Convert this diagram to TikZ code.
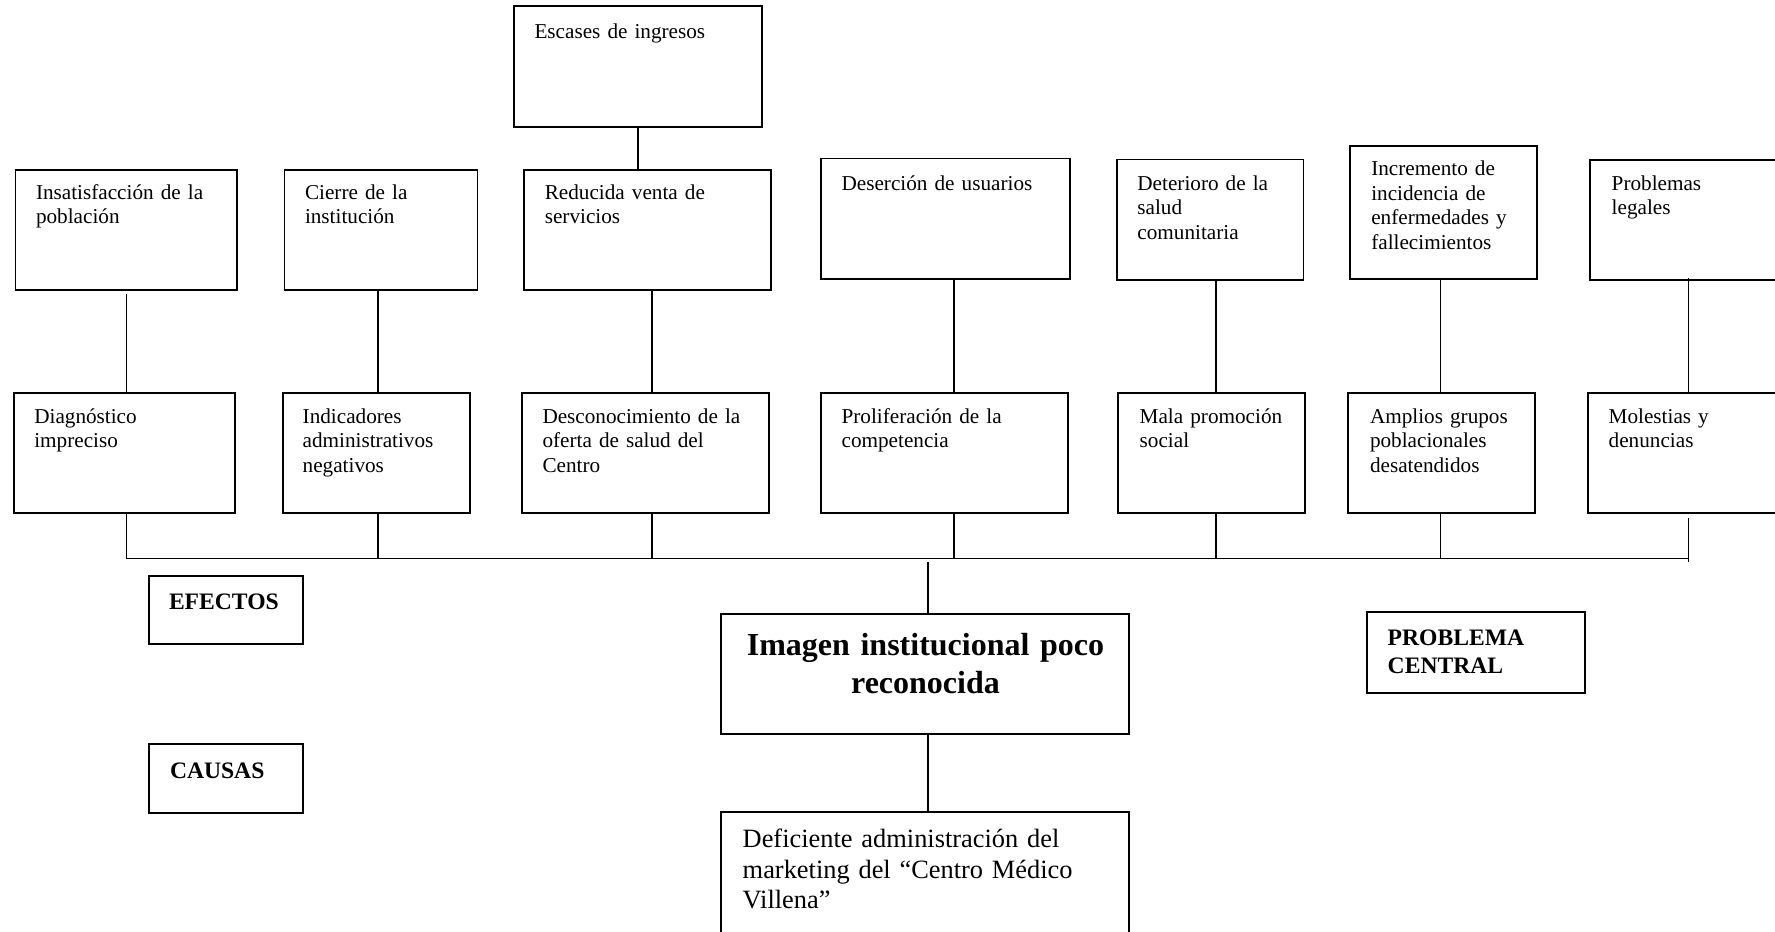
\documentclass[tikz,border=0pt]{standalone}
\usepackage{fontspec}
\setmainfont{Liberation Serif}
\usetikzlibrary{fit,calc}
\begin{document}
\begin{tikzpicture}[x=0.5pt,y=-0.5pt,
  box/.style={draw, line width=0.85pt, inner sep=0pt, outer sep=0pt},
  link/.style={line width=0.65pt},
  txt/.style={inner sep=0pt, outer sep=0pt, anchor=base west, text width=240pt,
    align=left, font=\fontsize{10.6}{12.3}\selectfont},
  tag/.style={txt, font=\fontsize{11.8}{13.8}\selectfont\bfseries},
  central/.style={inner sep=0pt, outer sep=0pt, anchor=base, text width=300pt,
    align=center, font=\fontsize{16}{19}\selectfont\bfseries},
  root/.style={txt, font=\fontsize{13.2}{15.4}\selectfont}]

\useasboundingbox (0,0) rectangle (1775,931);
\clip (0,0) rectangle (1775,931);

% column positions of the vertical links
\coordinate (k1) at (126.7,0);
\coordinate (k2) at (378,0);
\coordinate (k3) at (652,0);
\coordinate (k4) at (954,0);
\coordinate (k5) at (1216,0);
\coordinate (k6) at (1440.3,0);
\coordinate (k7) at (1688.3,0);
\coordinate (kc) at (928,0);
\coordinate (bus) at (0,558.7);

% top box
\node[box, fit={(514,6) (762,127)}] (esc) {};
\node[txt] (esct) at (534.5,38.5) {Escases de ingresos};

% effects row
\node[box, fit={(15.5,170) (237,290)}] (e1) {};
\node[box, fit={(284.5,170) (477.5,290)}] (e2) {};
\node[box, fit={(524,170) (771,290)}] (e3) {};
\node[box, fit={(821,158.5) (1070,279)}] (e4) {};
\node[box, fit={(1117,159.6) (1303.5,280)}] (e5) {};
\node[box, fit={(1350.3,146.3) (1537.3,278.7)}] (e6) {};
\node[box, fit={(1589.7,160) (1800,279.7)}] (e7) {};

\node[txt] (e1t) at (36,199) {Insatisfacción de la\\población};
\node[txt] (e2t) at (305,199) {Cierre de la\\institución};
\node[txt] (e3t) at (544.8,199) {Reducida venta de\\servicios};
\node[txt] (e4t) at (841.6,190.3) {Deserción de usuarios};
\node[txt] (e5t) at (1137.4,190.3) {Deterioro de la\\salud\\comunitaria};
\node[txt] (e6t) at (1371.3,175.7) {Incremento de\\incidencia de\\enfermedades y\\fallecimientos};
\node[txt] (e7t) at (1611.7,190) {Problemas\\legales};

% causes row
\node[box, fit={(14,392.7) (235,513)}] (c1) {};
\node[box, fit={(282.7,392.7) (470.3,513)}] (c2) {};
\node[box, fit={(522,392.7) (769,513)}] (c3) {};
\node[box, fit={(821,392.7) (1068,513)}] (c4) {};
\node[box, fit={(1118,392.7) (1305,513)}] (c5) {};
\node[box, fit={(1348.3,392.7) (1535,512.7)}] (c6) {};
\node[box, fit={(1588,392.7) (1800,513)}] (c7) {};

\node[txt] (c1t) at (34.3,423.3) {Diagnóstico\\impreciso};
\node[txt] (c2t) at (302.7,423.3) {Indicadores\\administrativos\\negativos};
\node[txt] (c3t) at (542.5,423.3) {Desconocimiento de la\\oferta de salud del\\Centro};
\node[txt] (c4t) at (841.6,423.3) {Proliferación de la\\competencia};
\node[txt] (c5t) at (1139.7,423.3) {Mala promoción\\social};
\node[txt] (c6t) at (1370,423.3) {Amplios grupos\\poblacionales\\desatendidos};
\node[txt] (c7t) at (1608.7,423.3) {Molestias y\\denuncias};

% legend boxes
\node[box, fit={(148.7,576) (303,644)}] (efe) {};
\node[tag] (efet) at (169,609.3) {EFECTOS};
\node[box, fit={(148.7,744.3) (303,812.7)}] (cau) {};
\node[tag] (caut) at (170,778) {CAUSAS};
\node[box, fit={(1366.7,612.3) (1585.3,692.7)}] (pc) {};
\node[tag] (pct) at (1387.7,645.7) {PROBLEMA\\CENTRAL};

% central problem and root cause
\node[box, fit={(720.7,614) (1129,734)}] (img) {};
\node[central] (imgt) at (925.5,655) {Imagen institucional poco\\reconocida};
\node[box, fit={(721,812) (1129,960)}] (def) {};
\node[root] (deft) at (742.7,847.3) {Deficiente administración del\\marketing del “Centro Médico\\Villena”};

% links
\draw[link] (esc.south) -- (esc.south |- e3.north);
\draw[link] ($(e1.south -| k1)+(0,4)$) -- (c1.north -| k1);
\draw[link] (e2.south -| k2) -- (c2.north -| k2);
\draw[link] (e3.south -| k3) -- (c3.north -| k3);
\draw[link] (e4.south -| k4) -- (c4.north -| k4);
\draw[link] (e5.south -| k5) -- (c5.north -| k5);
\draw[link] (e6.south -| k6) -- (c6.north -| k6);
\draw[link] ($(e7.south -| k7)+(0,-2)$) -- (c7.north -| k7);

\draw[link] (c1.south -| k1) -- (k1 |- bus);
\draw[link] (c2.south -| k2) -- (k2 |- bus);
\draw[link] (c3.south -| k3) -- (k3 |- bus);
\draw[link] (c4.south -| k4) -- (k4 |- bus);
\draw[link] (c5.south -| k5) -- (k5 |- bus);
\draw[link] (c6.south -| k6) -- (k6 |- bus);
\draw[link] ($(c7.south -| k7)+(0,5)$) -- ($(k7 |- bus)+(0,3.5)$);
\draw[link] (k1 |- bus) -- (k7 |- bus);

\draw[link] ($(kc |- bus)+(0,3)$) -- (img.north -| kc);
\draw[link] (img.south -| kc) -- (def.north -| kc);
\end{tikzpicture}
\end{document}
